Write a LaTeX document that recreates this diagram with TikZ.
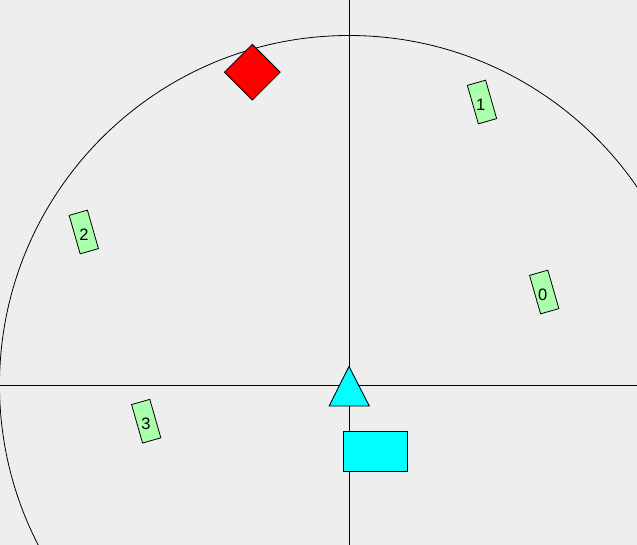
\documentclass[tikz,border=0pt]{standalone}
\usepackage{fontspec}
\setmainfont{Liberation Sans}
\usetikzlibrary{shapes.geometric}
\definecolor{bgray}{RGB}{238,238,238}
\definecolor{tagGreen}{RGB}{170,255,170}
\definecolor{robotCyan}{RGB}{0,255,255}

\begin{document}
\begin{tikzpicture}[
        x=1pt, y=-1pt,
        tag_box/.style={draw, fill=tagGreen, line width=0.8pt, minimum width=19pt, minimum height=40pt, inner sep=0pt},
        tag_label/.style={font=\fontsize{16.5}{16.5}\selectfont, inner sep=0pt},
        marker_diamond/.style={draw, fill=red, line width=0.8pt, diamond, aspect=1, minimum width=56pt, minimum height=56pt, inner sep=0pt},
        base_box/.style={draw, fill=robotCyan, line width=0.9pt, minimum width=64pt, minimum height=40pt, inner sep=0pt},
        axis_line/.style={line width=0.9pt}
    ]
        % Frame
        \fill[bgray] (0,0) rectangle (637,545);
        \useasboundingbox (0,0) rectangle (637,545);
        \begin{scope}
            \clip (0,0) rectangle (637,545);
            \draw[line width=0.8pt] (349,385) circle (349.5pt);
        \end{scope}

        % Axes
        \coordinate (top) at (349,0);
        \coordinate (bottom) at (349,545);
        \coordinate (left) at (0,385);
        \coordinate (right) at (637,385);
        \draw[axis_line] (top) -- (bottom);
        \draw[axis_line] (left) -- (right);

        % Tags
        \node[tag_box, rotate=16] (tag0) at (544.2,292) {};
        \node[tag_label] (lab0) at (542.7,294.5) {0};
        \node[tag_box, rotate=16] (tag1) at (482,102) {};
        \node[tag_label] (lab1) at (480.7,104.5) {1};
        \node[tag_box, rotate=16] (tag2) at (83.8,232) {};
        \node[tag_label] (lab2) at (84,234.5) {2};
        \node[tag_box, rotate=16] (tag3) at (146.2,421.2) {};
        \node[tag_label] (lab3) at (146,423.5) {3};

        % Target and robot
        \node[marker_diamond] (target) at (252.3,72.2) {};
        \coordinate (apex) at (349,366.5);
        \coordinate (baseL) at (329.2,406);
        \coordinate (baseR) at (369.3,406);
        \draw[fill=robotCyan, line width=0.9pt] (apex) -- (baseR) -- (baseL) -- cycle;
        \node[base_box] (robot) at (375.3,451) {};
    \end{tikzpicture}
\end{document}
